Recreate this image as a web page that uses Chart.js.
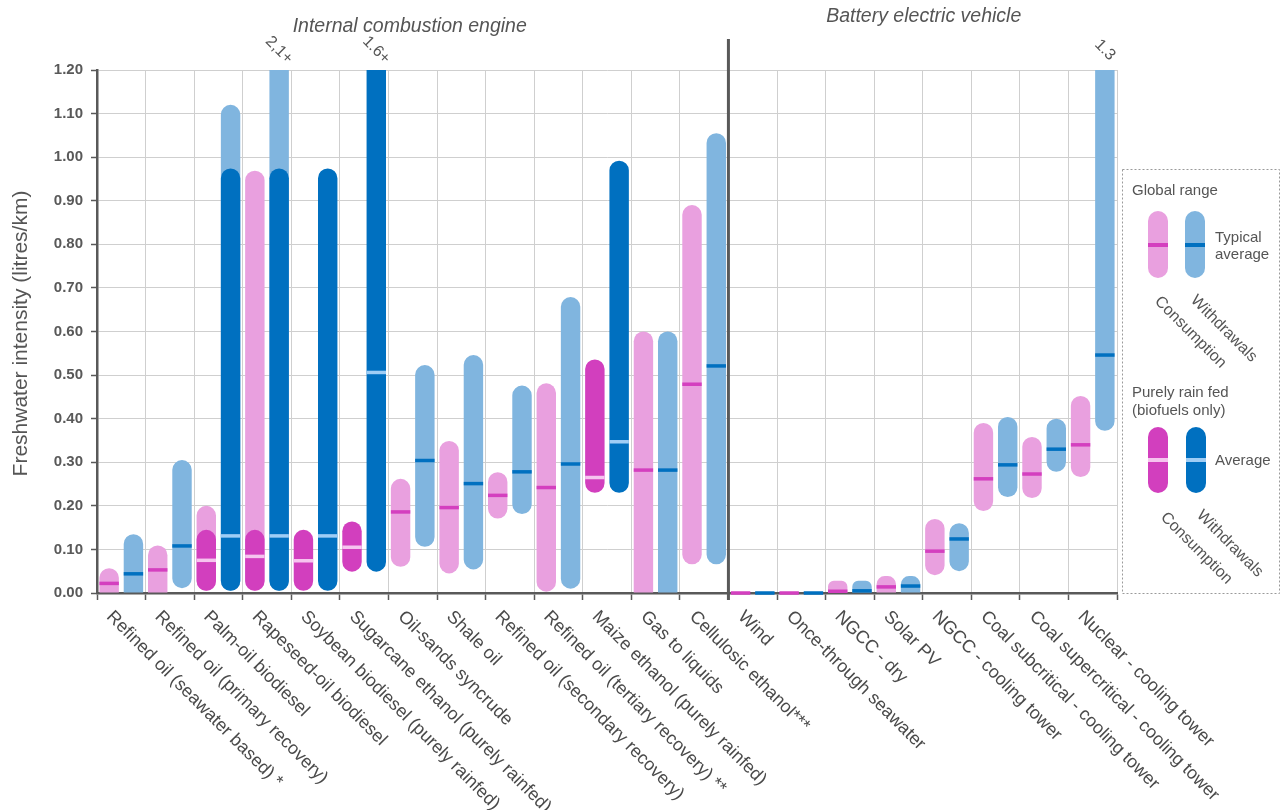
<!DOCTYPE html>
<html>
<head>
<meta charset="utf-8">
<script src="https://cdn.jsdelivr.net/npm/chart.js@4/dist/chart.umd.min.js"></script>
<style>
  html, body { margin: 0; padding: 0; background: #ffffff; }
  #wrap { width: 1282px; height: 810px; position: relative; }
</style>
</head>
<body>
<div id="wrap"><canvas id="chart"></canvas></div>
<script>
// ---- data -------------------------------------------------------------
const categories = [
  'Refined oil (seawater based) *',
  'Refined oil (primary recovery)',
  'Palm-oil biodiesel',
  'Rapeseed-oil biodiesel',
  'Soybean biodiesel (purely rainfed)',
  'Sugarcane ethanol (purely rainfed)',
  'Oil-sands syncrude',
  'Shale oil',
  'Refined oil (secondary recovery)',
  'Refined oil (tertiary recovery) **',
  'Maize ethanol (purely rainfed)',
  'Gas to liquids',
  'Cellulosic ethanol***',
  'Wind',
  'Once-through seawater',
  'NGCC - dry',
  'Solar PV',
  'NGCC - cooling tower',
  'Coal subcritical - cooling tower',
  'Coal supercritical - cooling tower',
  'Nuclear - cooling tower'
];
const groupTitles = ['Internal combustion engine', 'Battery electric vehicle'];
const groupSizes = [13, 8];

// Global range, consumption (litres/km)
const consLow  = [0, 0, 0.005, 0.005, null, null, 0.060, 0.045, 0.171, 0.003, null, 0, 0.066, 0, 0, 0, 0, 0.041, 0.188, 0.218, 0.266];
const consHigh = [0.057, 0.109, 0.200, 0.969, null, null, 0.262, 0.349, 0.277, 0.481, null, 0.600, 0.890, 0, 0, 0.028, 0.039, 0.170, 0.390, 0.358, 0.452];
const consAvg  = [0.022, 0.053, null, null, null, null, 0.186, 0.196, 0.224, 0.242, null, 0.282, 0.479, 0, 0, 0.004, 0.014, 0.096, 0.262, 0.273, 0.340];

// Global range, withdrawals (litres/km)
const withLow  = [0, 0.011, 0.005, 0.005, null, null, 0.106, 0.054, 0.181, 0.010, null, 0, 0.066, 0, 0, 0, 0, 0.050, 0.220, 0.278, 0.372];
const withHigh = [0.135, 0.305, 1.120, 2.1, null, null, 0.523, 0.546, 0.476, 0.679, null, 0.600, 1.055, 0, 0, 0.028, 0.039, 0.160, 0.404, 0.400, 1.3];
const withAvg  = [0.044, 0.108, null, null, null, null, 0.304, 0.251, 0.278, 0.296, null, 0.282, 0.521, 0, 0, 0.005, 0.016, 0.124, 0.294, 0.330, 0.546];

// Purely rain fed (biofuels only)
const rainConsLow  = [null, null, 0.005, 0.005, 0.005, 0.049, null, null, null, null, 0.230, null, null, null, null, null, null, null, null, null, null];
const rainConsHigh = [null, null, 0.145, 0.145, 0.145, 0.164, null, null, null, null, 0.536, null, null, null, null, null, null, null, null, null, null];
const rainConsAvg  = [null, null, 0.075, 0.084, 0.074, 0.105, null, null, null, null, 0.265, null, null, null, null, null, null, null, null, null, null];
const rainWithLow  = [null, null, 0.005, 0.005, 0.005, 0.049, null, null, null, null, 0.230, null, null, null, null, null, null, null, null, null, null];
const rainWithHigh = [null, null, 0.974, 0.974, 0.974, 1.6, null, null, null, null, 0.992, null, null, null, null, null, null, null, null, null, null];
const rainWithAvg  = [null, null, 0.131, 0.131, 0.131, 0.506, null, null, null, null, 0.347, null, null, null, null, null, null, null, null, null, null];

// Notes for withdrawal bars running past the top of the axis
const overflowNotes = [null, null, null, '2,1+', null, '1.6+', null, null, null, null, null, null, null, null, null, null, null, null, null, null, '1.3'];

const yTicksMax = 1.2;
const yTicksStep = 0.1;

// ---- styling ----------------------------------------------------------
const COL = {
  pinkLight: '#e9a0df',
  pinkDark:  '#d23fbe',
  blueLight: '#80b5df',
  blueDark:  '#0070c0',
  markPinkOnLight: '#d43fbf',
  markBlueOnLight: '#0070c0',
  markPinkOnDark:  '#f6c4ef',
  markBlueOnDark:  '#9fcdf5',
  text: '#555555',
  axis: '#595959',
  grid: '#cfcfcf'
};
const FONT = '"Liberation Sans", Arial, Helvetica, sans-serif';

const pair = (lo, hi) => lo.map((v, i) => (v === null || hi[i] === null) ? null : [v, hi[i]]);

function rangeDataset(label, lo, hi, avg, stack, color, markColor, order) {
  return {
    label, stack, order,
    data: pair(lo, hi),
    avg, markColor,
    backgroundColor: color,
    borderWidth: 0,
    borderRadius: 10,
    borderSkipped: ctx => (ctx.raw && ctx.raw[0] <= 0) ? 'bottom' : false,
    inflateAmount: 0,
    clip: 0,
    categoryPercentage: 1.0,
    barPercentage: 0.8
  };
}

// Average markers, overflow notes, rotated labels, group titles, legend
const decorations = {
  id: 'decorations',
  afterDatasetsDraw(chart) {
    const ctx = chart.ctx;
    const y = chart.scales.y;
    const x = chart.scales.x;
    const area = chart.chartArea;

    // average markers
    chart.data.datasets.forEach((ds, di) => {
      const meta = chart.getDatasetMeta(di);
      ds.avg.forEach((a, i) => {
        if (a === null) return;
        const el = meta.data[i];
        if (!el) return;
        const py = y.getPixelForValue(a);
        ctx.save();
        ctx.fillStyle = ds.markColor;
        ctx.fillRect(el.x - el.width / 2, py - 1.75, el.width, 3.5);
        ctx.restore();
      });
    });

    // group divider
    const splitIdx = groupSizes[0];
    const divX = (x.getPixelForValue(splitIdx - 1) + x.getPixelForValue(splitIdx)) / 2;
    ctx.save();
    ctx.strokeStyle = COL.axis;
    ctx.lineWidth = 3;
    ctx.beginPath();
    ctx.moveTo(divX, 39);
    ctx.lineTo(divX, area.bottom + 7);
    ctx.stroke();
    ctx.restore();

    // notes above clipped bars
    const withMeta = chart.getDatasetMeta(3);
    ctx.save();
    ctx.fillStyle = COL.text;
    ctx.font = '16px ' + FONT;
    ctx.textAlign = 'center';
    ctx.textBaseline = 'middle';
    overflowNotes.forEach((t, i) => {
      if (!t) return;
      const el = withMeta.data[i];
      ctx.save();
      ctx.translate(el.x, 50);
      ctx.rotate(Math.PI / 4);
      ctx.fillText(t, 0, 0);
      ctx.restore();
    });
    ctx.restore();
  },
  afterDraw(chart) {
    const ctx = chart.ctx;
    const x = chart.scales.x;
    const area = chart.chartArea;

    // category labels, rotated down to the right
    ctx.save();
    ctx.fillStyle = '#4a4a4a';
    ctx.font = '18px ' + FONT;
    ctx.textAlign = 'left';
    ctx.textBaseline = 'middle';
    categories.forEach((c, i) => {
      const px = x.getPixelForValue(i);
      ctx.save();
      ctx.translate(px - 12, area.bottom + 21);
      ctx.rotate(Math.PI / 4);
      ctx.fillText(c, 0, 0);
      ctx.restore();
    });
    ctx.restore();

    // group titles
    ctx.save();
    ctx.fillStyle = COL.text;
    ctx.font = 'italic 19.5px ' + FONT;
    ctx.textAlign = 'center';
    ctx.textBaseline = 'alphabetic';
    const split = (x.getPixelForValue(groupSizes[0] - 1) + x.getPixelForValue(groupSizes[0])) / 2;
    ctx.fillText(groupTitles[0], (area.left + split) / 2 - 3, 32);
    ctx.fillText(groupTitles[1], (split + area.right) / 2 + 1, 22);
    ctx.restore();

    // y axis title
    ctx.save();
    ctx.fillStyle = COL.text;
    ctx.font = '21px ' + FONT;
    ctx.textAlign = 'center';
    ctx.textBaseline = 'middle';
    ctx.translate(21, (area.top + area.bottom) / 2 + 2);
    ctx.rotate(-Math.PI / 2);
    ctx.fillText('Freshwater intensity (litres/km)', 0, 0);
    ctx.restore();

    // legend panel
    ctx.save();
    ctx.strokeStyle = '#9a9a9a';
    ctx.lineWidth = 1;
    ctx.setLineDash([2, 2]);
    ctx.strokeRect(1122.5, 169.5, 157, 424);
    ctx.setLineDash([]);

    ctx.fillStyle = COL.text;
    ctx.font = '15px ' + FONT;
    ctx.textAlign = 'left';
    ctx.textBaseline = 'alphabetic';
    ctx.fillText('Global range', 1132, 195);
    ctx.fillText('Typical', 1215, 242);
    ctx.fillText('average', 1215, 259);
    ctx.fillText('Purely rain fed', 1132, 397);
    ctx.fillText('(biofuels only)', 1132, 415);
    ctx.fillText('Average', 1215, 465);

    const pill = (px, top, h, fill, mark, my) => {
      ctx.fillStyle = fill;
      ctx.beginPath();
      ctx.roundRect(px, top, 20, h, 10);
      ctx.fill();
      ctx.fillStyle = mark;
      ctx.fillRect(px, my - 2, 20, 4);
    };
    pill(1148, 211, 67, COL.pinkLight, COL.markPinkOnLight, 245);
    pill(1185, 211, 67, COL.blueLight, COL.markBlueOnLight, 245);
    pill(1148, 427, 66, COL.pinkDark, COL.markPinkOnDark, 460);
    pill(1186, 427, 66, COL.blueDark, COL.markBlueOnDark, 460);

    ctx.fillStyle = COL.text;
    ctx.font = '16px ' + FONT;
    ctx.textBaseline = 'middle';
    const rot = (t, px, py) => {
      ctx.save();
      ctx.translate(px, py);
      ctx.rotate(Math.PI / 4);
      ctx.fillText(t, 0, 0);
      ctx.restore();
    };
    rot('Consumption', 1157, 299);
    rot('Withdrawals', 1193, 298);
    rot('Consumption', 1163, 515);
    rot('Withdrawals', 1199, 513);
    ctx.restore();
  }
};

new Chart(document.getElementById('chart'), {
  type: 'bar',
  data: {
    labels: categories,
    datasets: [
      rangeDataset('Purely rain fed - consumption', rainConsLow, rainConsHigh, rainConsAvg, 'cons', COL.pinkDark, COL.markPinkOnDark, 0),
      rangeDataset('Purely rain fed - withdrawals', rainWithLow, rainWithHigh, rainWithAvg, 'with', COL.blueDark, COL.markBlueOnDark, 0),
      rangeDataset('Global range - consumption', consLow, consHigh, consAvg, 'cons', COL.pinkLight, COL.markPinkOnLight, 1),
      rangeDataset('Global range - withdrawals', withLow, withHigh, withAvg, 'with', COL.blueLight, COL.markBlueOnLight, 1)
    ]
  },
  options: {
    responsive: true,
    maintainAspectRatio: false,
    animation: false,
    events: [],
    layout: { padding: { top: 70, right: 165, left: 0, bottom: 0 } },
    plugins: { legend: { display: false }, tooltip: { enabled: false }, title: { display: false } },
    scales: {
      x: {
        type: 'category',
        offset: true,
        ticks: { display: false },
        grid: { offset: true, color: COL.grid, lineWidth: 1, tickColor: COL.axis, tickLength: 7, tickWidth: 1.5 },
        border: { color: COL.axis, width: 2.5 },
        afterFit(scale) { scale.height = 217; }
      },
      y: {
        stacked: false,
        min: 0,
        max: yTicksMax,
        ticks: {
          stepSize: yTicksStep,
          callback: v => Number(v).toFixed(2),
          font: { family: FONT, size: 15, weight: 'bold' },
          color: COL.axis,
          padding: 8
        },
        grid: { color: COL.grid, lineWidth: 1, tickColor: COL.axis, tickLength: 6, tickWidth: 1.5 },
        border: { color: COL.axis, width: 2.5 },
        afterFit(scale) { scale.width = 97; }
      }
    }
  },
  plugins: [decorations]
});
</script>
</body>
</html>
